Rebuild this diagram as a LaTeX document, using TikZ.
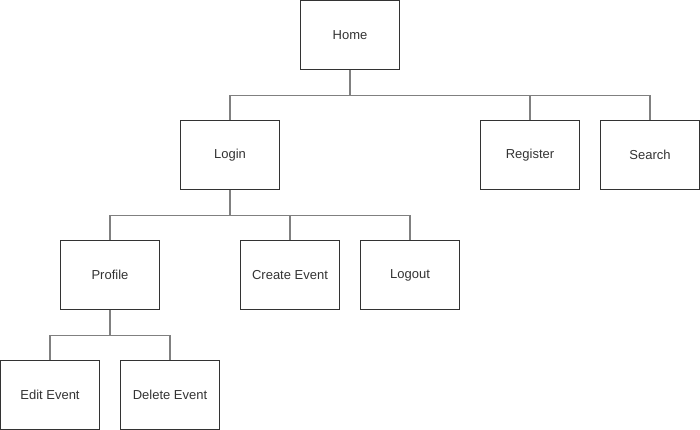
\documentclass[tikz,border=0pt]{standalone}
\usepackage{fontspec}
\setmainfont{Liberation Sans}
\begin{document}
\begin{tikzpicture}[x=1pt,y=-1pt,
  box/.style={draw=black!80,line width=0.9pt,minimum width=99pt,minimum height=69pt,inner sep=0pt,font=\fontsize{13}{15}\selectfont,text=black!80},
  conn/.style={draw=black!50,line width=1.4pt}]
\useasboundingbox (0,0) rectangle (700,430);
\node[box] (home) at (350,35) {Home};
\node[box] (login) at (230,155) {Login};
\node[box] (register) at (530,155) {Register};
\node[box] (search) at (650,155) {Search};
\node[box] (profile) at (110,275) {Profile};
\node[box] (create) at (290,275) {Create Event};
\node[box] (logout) at (410,275) {Logout};
\node[box] (edit) at (50,395) {Edit Event};
\node[box] (delete) at (170,395) {Delete Event};
\draw[conn] (home.south) -- ++(0,25.5) coordinate (h1);
\draw[conn] (login.north) |- (h1) -| (search.north);
\draw[conn] (register.north) -- (register.north |- h1);
\draw[conn] (login.south) -- ++(0,25.5) coordinate (l1);
\draw[conn] (profile.north) |- (l1) -| (logout.north);
\draw[conn] (create.north) -- (create.north |- l1);
\draw[conn] (profile.south) -- ++(0,25.5) coordinate (p1);
\draw[conn] (edit.north) |- (p1) -| (delete.north);
\end{tikzpicture}
\end{document}
